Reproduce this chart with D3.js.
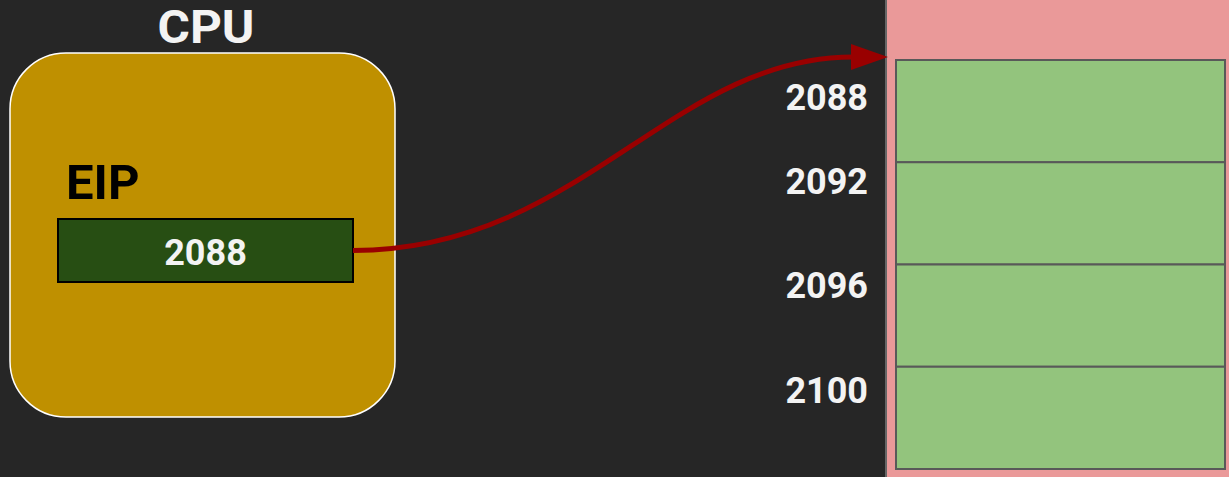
<!DOCTYPE html>
<html>
<head>
<meta charset="utf-8">
<script src="https://cdn.jsdelivr.net/npm/d3@7"></script>
<style>
  html, body { margin: 0; padding: 0; background: #262626; overflow: hidden; }
  text { font-family: Roboto, "Liberation Sans", sans-serif; font-weight: bold; }
</style>
</head>
<body>
<svg id="chart"></svg>
<script>
// data
var cpuLabel = 'CPU';
var registerName = 'EIP';
var eipValue = 2088;
var addresses = [2088, 2092, 2096, 2100];

// layout
var width = 1229;
var height = 477;
var labelDy = [50, 32, 33, 36];   // baseline offset of each address label inside its row

var svg = d3.select('#chart')
	.attr('width', width)
	.attr('height', height);

svg.append('rect')
	.attr('width', width)
	.attr('height', height)
	.attr('fill', '#262626');

// ---- CPU ----
svg.append('text')
	.attr('x', 206)
	.attr('y', 43)
	.attr('text-anchor', 'middle')
	.attr('font-size', 46)
	.attr('textLength', 97)
	.attr('lengthAdjust', 'spacingAndGlyphs')
	.attr('fill', '#f3f3f3')
	.text(cpuLabel);

svg.append('rect')
	.attr('x', 10)
	.attr('y', 53)
	.attr('width', 385)
	.attr('height', 364)
	.attr('rx', 56)
	.attr('fill', '#bf9000')
	.attr('stroke', '#ffffff')
	.attr('stroke-width', 1.5);

svg.append('text')
	.attr('x', 66)
	.attr('y', 199)
	.attr('font-size', 49)
	.attr('fill', '#000000')
	.text(registerName);

var reg = { x: 58, y: 219, w: 295, h: 63 };
svg.append('rect')
	.attr('x', reg.x)
	.attr('y', reg.y)
	.attr('width', reg.w)
	.attr('height', reg.h)
	.attr('fill', '#274e13')
	.attr('stroke', '#000000')
	.attr('stroke-width', 2);

svg.append('text')
	.attr('x', reg.x + reg.w / 2)
	.attr('y', 265)
	.attr('text-anchor', 'middle')
	.attr('font-size', 36)
	.attr('fill', '#f3f3f3')
	.text(eipValue);

// ---- memory ----
var memX = 886;
svg.append('rect')
	.attr('x', memX)
	.attr('y', -5)
	.attr('width', width - memX + 10)
	.attr('height', height + 10)
	.attr('fill', '#ea9999')
	.attr('stroke', '#666666')
	.attr('stroke-width', 2);

var y = d3.scaleBand()
	.domain(addresses)
	.range([60, 469])
	.paddingInner(0);

svg.selectAll('rect.cell')
	.data(addresses)
	.enter()
	.append('rect')
	.attr('class', 'cell')
	.attr('x', 896)
	.attr('y', function(d) { return y(d); })
	.attr('width', 329)
	.attr('height', y.bandwidth())
	.attr('fill', '#93c47d')
	.attr('stroke', '#595959')
	.attr('stroke-width', 2);

svg.selectAll('text.addr')
	.data(addresses)
	.enter()
	.append('text')
	.attr('class', 'addr')
	.attr('x', 868)
	.attr('y', function(d, i) { return y(d) + labelDy[i]; })
	.attr('text-anchor', 'end')
	.attr('font-size', 36)
	.attr('fill', '#f3f3f3')
	.text(function(d) { return d; });

// ---- arrow from EIP to the address it holds ----
var sx = reg.x + reg.w, sy = reg.y + reg.h / 2;
var tipX = memX + 2, tipY = y(eipValue) - 3;
var headLen = 37, headHalf = 13;
var ex = tipX - headLen;

var p = d3.path();
p.moveTo(sx, sy);
p.bezierCurveTo(580, sy, 670, tipY, ex + 2, tipY);
svg.append('path')
	.attr('d', p.toString())
	.attr('fill', 'none')
	.attr('stroke', '#990000')
	.attr('stroke-width', 5);

svg.append('path')
	.attr('d', d3.line()([[tipX, tipY], [ex, tipY - headHalf], [ex, tipY + headHalf]]) + 'Z')
	.attr('fill', '#990000');
</script>
</body>
</html>
